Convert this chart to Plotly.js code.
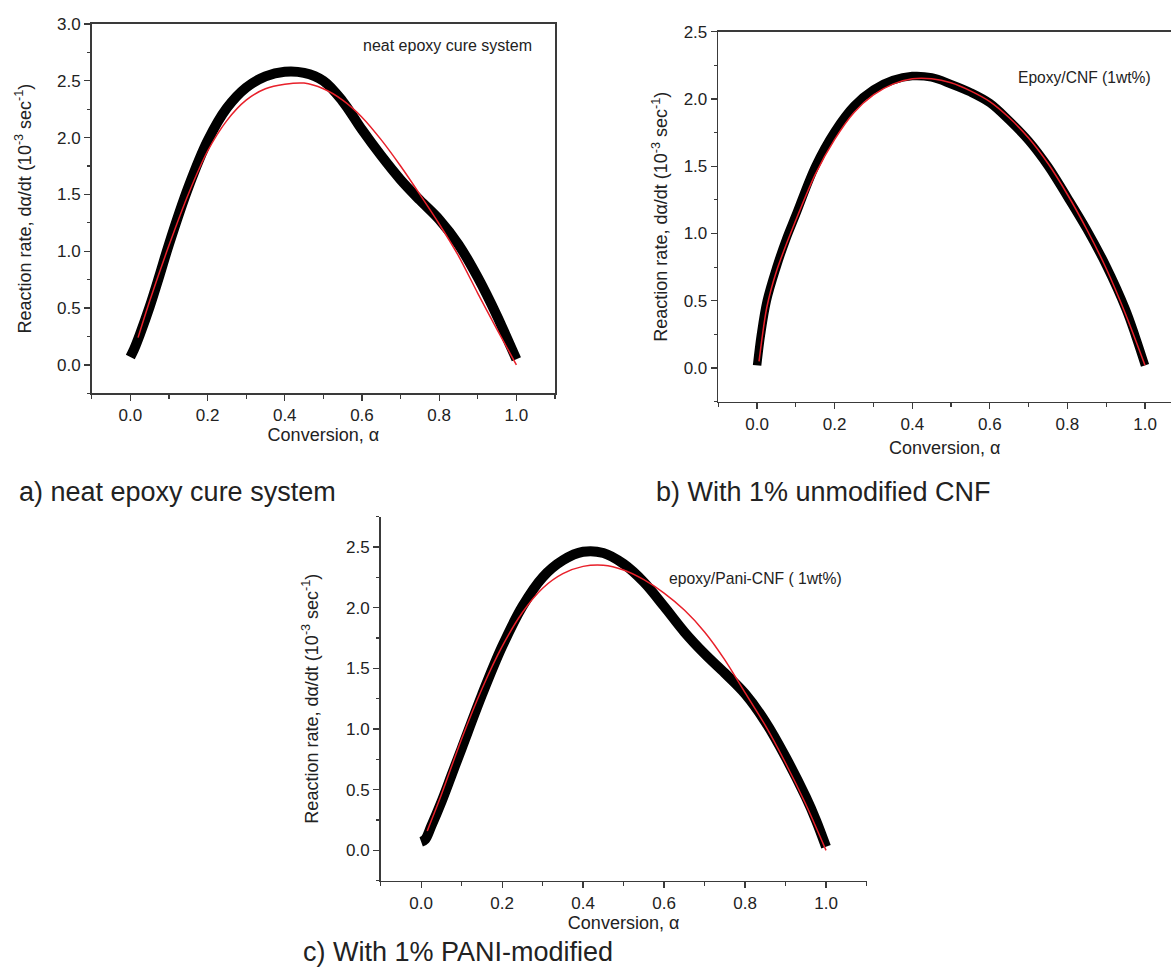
<!DOCTYPE html>
<html>
<head>
<meta charset="utf-8">
<script src="https://cdn.plot.ly/plotly-3.0.1.min.js"></script>
<style>html,body{margin:0;padding:0;background:#fff;}#chart{width:1171px;height:967px;}</style>
</head>
<body>
<div id="chart"></div>
<script>
// ---- data ----
const alphaExp = [0, 0.01, 0.025, 0.05, 0.075, 0.1, 0.15, 0.2, 0.25, 0.3, 0.35, 0.4, 0.45, 0.5, 0.55, 0.6, 0.65, 0.7, 0.75, 0.8, 0.85, 0.9, 0.95, 0.975, 1.0];
const rateNeat = [0.07, 0.14, 0.27, 0.51, 0.78, 1.06, 1.56, 1.97, 2.26, 2.44, 2.54, 2.58, 2.57, 2.50, 2.32, 2.07, 1.84, 1.63, 1.45, 1.28, 1.06, 0.77, 0.43, 0.24, 0.05];
const rateCNF  = [0.02, 0.25, 0.50, 0.75, 0.96, 1.14, 1.50, 1.76, 1.95, 2.07, 2.14, 2.17, 2.16, 2.11, 2.05, 1.97, 1.84, 1.69, 1.50, 1.27, 1.03, 0.76, 0.44, 0.24, 0.02];
const ratePani = [0.07, 0.09, 0.20, 0.40, 0.62, 0.84, 1.28, 1.68, 2.01, 2.25, 2.39, 2.46, 2.45, 2.36, 2.21, 2.01, 1.80, 1.62, 1.46, 1.29, 1.06, 0.77, 0.44, 0.25, 0.03];

const alphaFitA = [0.02, 0.05, 0.1, 0.15, 0.2, 0.25, 0.3, 0.35, 0.4, 0.45, 0.5, 0.55, 0.6, 0.65, 0.7, 0.75, 0.8, 0.85, 0.9, 0.95, 1.0];
const fitNeat = [0.24, 0.56, 1.05, 1.50, 1.88, 2.15, 2.33, 2.43, 2.47, 2.48, 2.43, 2.33, 2.18, 1.98, 1.75, 1.50, 1.24, 0.96, 0.63, 0.31, 0.0];
const alphaFitB = [0.005, 0.025, 0.05, 0.1, 0.15, 0.2, 0.25, 0.3, 0.35, 0.4, 0.45, 0.5, 0.55, 0.6, 0.65, 0.7, 0.75, 0.8, 0.85, 0.9, 0.95, 1.0];
const fitCNF = [0.05, 0.45, 0.72, 1.10, 1.44, 1.70, 1.90, 2.03, 2.11, 2.15, 2.15, 2.12, 2.06, 1.98, 1.86, 1.71, 1.52, 1.29, 1.03, 0.74, 0.40, 0.02];
const alphaFitC = [0.015, 0.05, 0.1, 0.15, 0.2, 0.25, 0.3, 0.35, 0.4, 0.45, 0.5, 0.55, 0.6, 0.65, 0.7, 0.75, 0.8, 0.85, 0.9, 0.95, 1.0];
const fitPani = [0.16, 0.46, 0.92, 1.33, 1.68, 1.96, 2.16, 2.28, 2.34, 2.35, 2.31, 2.23, 2.12, 1.98, 1.80, 1.57, 1.30, 1.03, 0.72, 0.38, 0.0];

const xTitle = 'Conversion, \u03b1';
const yTitle = 'Reaction rate, d\u03b1/dt (10<sup>-3</sup> sec<sup>-1</sup>)';
const insetLabels = ['neat epoxy cure system', 'Epoxy/CNF (1wt%)', 'epoxy/Pani-CNF ( 1wt%)'];
const captions = ['a) neat epoxy cure system', 'b) With 1% unmodified CNF', 'c) With 1% PANI-modified'];

// ---- styling ----
const FONT = 'Liberation Sans, Arial, Helvetica, sans-serif';
const W = 1171, H = 967;
const px = v => v / W;
const py = v => 1 - v / H;

function blackTrace(x, y, xa, ya, w) {
  return {x: x, y: y, xaxis: xa, yaxis: ya, type: 'scatter', mode: 'lines',
    line: {color: '#000', width: w, shape: 'spline', smoothing: 1.0}, hoverinfo: 'x+y', showlegend: false};
}
function redTrace(x, y, xa, ya) {
  return {x: x, y: y, xaxis: xa, yaxis: ya, type: 'scatter', mode: 'lines',
    line: {color: '#e8202a', width: 1.5, shape: 'spline', smoothing: 0.8}, hoverinfo: 'x+y', showlegend: false};
}

const traces = [
  blackTrace(alphaExp, rateNeat, 'x', 'y', 10),
  redTrace(alphaFitA, fitNeat, 'x', 'y'),
  blackTrace(alphaExp, rateCNF, 'x2', 'y2', 8.5),
  redTrace(alphaFitB, fitCNF, 'x2', 'y2'),
  blackTrace(alphaExp, ratePani, 'x3', 'y3', 10),
  redTrace(alphaFitC, fitPani, 'x3', 'y3')
];

function xAxis(domain, range, anchor, mirror, standoff) {
  return {domain: domain, range: range, anchor: anchor, showgrid: false, zeroline: false,
    showline: true, linecolor: '#3a3a3a', linewidth: 1.6, mirror: mirror,
    tick0: 0, dtick: 0.2, ticks: 'outside', ticklen: 6, tickwidth: 1.3, tickcolor: '#3a3a3a',
    minor: {tick0: 0, dtick: 0.1, ticks: 'outside', ticklen: 4, tickwidth: 1.2, tickcolor: '#3a3a3a'},
    tickformat: '.1f', tickfont: {family: FONT, size: 17, color: '#222'},
    title: {text: xTitle, font: {family: FONT, size: 18, color: '#222'}, standoff: standoff}};
}
function yAxis(domain, range, anchor, mirror, standoff) {
  return {domain: domain, range: range, anchor: anchor, showgrid: false, zeroline: false,
    showline: true, linecolor: '#3a3a3a', linewidth: 1.6, mirror: mirror,
    tick0: 0, dtick: 0.5, ticks: 'outside', ticklen: 6, tickwidth: 1.3, tickcolor: '#3a3a3a',
    minor: {tick0: 0, dtick: 0.25, ticks: 'outside', ticklen: 3, tickwidth: 1.2, tickcolor: '#3a3a3a'},
    tickformat: '.1f', tickfont: {family: FONT, size: 17, color: '#222'},
    title: {text: yTitle, font: {family: FONT, size: 18, color: '#222'}, standoff: standoff}};
}

const layout = {
  width: W, height: H,
  margin: {l: 0, r: 0, t: 0, b: 0, pad: 0},
  paper_bgcolor: '#fff', plot_bgcolor: '#fff',
  showlegend: false,
  xaxis:  xAxis([px(91.7), px(555)], [-0.1, 1.1], 'y', true, 2),
  yaxis:  yAxis([py(393.3), py(24)], [-0.25, 3.0], 'x', true, 21),
  xaxis2: xAxis([px(718.3), 1.0], [-0.1, 1.067], 'y2', true, 8),
  yaxis2: yAxis([py(401.7), py(31.7)], [-0.25, 2.5], 'x2', false, 11),
  xaxis3: xAxis([px(380.7), px(866.5)], [-0.1, 1.1], 'y3', false, 4),
  yaxis3: yAxis([py(880.7), py(516.6)], [-0.25, 2.75], 'x3', false, 23),
  annotations: [
    {text: insetLabels[0], xref: 'paper', yref: 'paper', x: px(361), y: py(46), xanchor: 'left', yanchor: 'middle', showarrow: false, font: {family: FONT, size: 16, color: '#222'}},
    {text: insetLabels[1], xref: 'paper', yref: 'paper', x: px(1016), y: py(77), xanchor: 'left', yanchor: 'middle', showarrow: false, font: {family: FONT, size: 15.6, color: '#222'}},
    {text: insetLabels[2], xref: 'paper', yref: 'paper', x: px(667), y: py(578), xanchor: 'left', yanchor: 'middle', showarrow: false, font: {family: FONT, size: 15.7, color: '#222'}},
    {text: captions[0], xref: 'paper', yref: 'paper', x: px(17), y: py(492), xanchor: 'left', yanchor: 'middle', showarrow: false, font: {family: FONT, size: 27, color: '#222'}},
    {text: captions[1], xref: 'paper', yref: 'paper', x: px(654), y: py(492), xanchor: 'left', yanchor: 'middle', showarrow: false, font: {family: FONT, size: 27, color: '#222'}},
    {text: captions[2], xref: 'paper', yref: 'paper', x: px(301), y: py(952), xanchor: 'left', yanchor: 'middle', showarrow: false, font: {family: FONT, size: 27, color: '#222'}}
  ]
};

Plotly.newPlot('chart', traces, layout, {staticPlot: true, displayModeBar: false});
</script>
</body>
</html>
